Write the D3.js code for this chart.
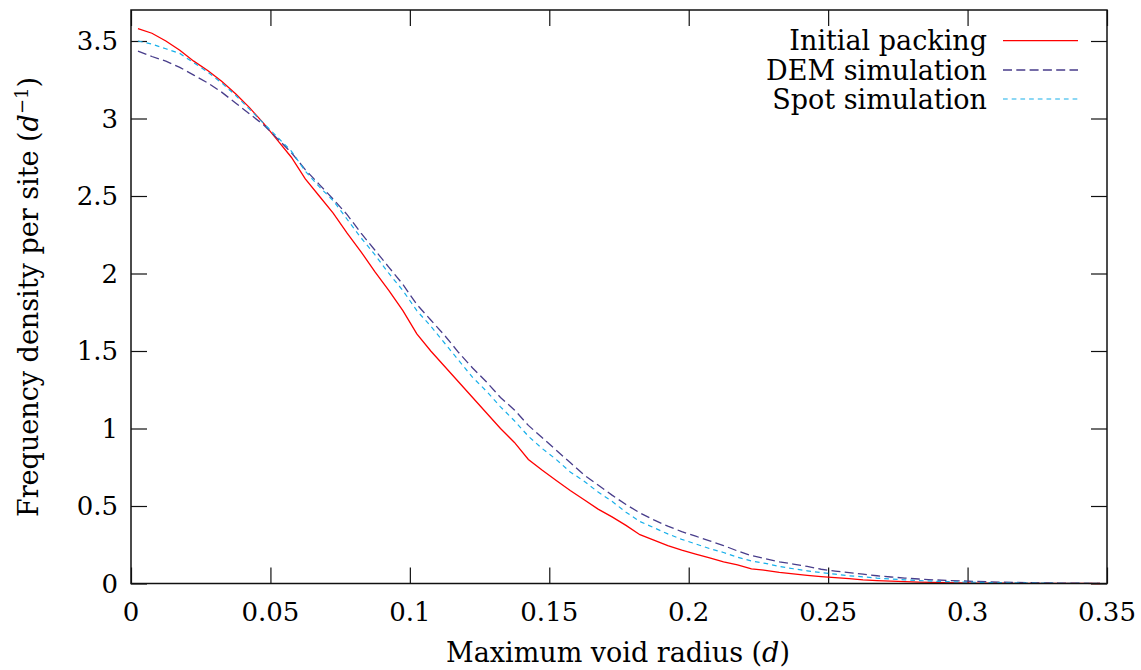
<!DOCTYPE html>
<html><head><meta charset="utf-8">
<script src="https://cdn.jsdelivr.net/npm/d3@7"></script>
<style>html,body{margin:0;padding:0;background:#fff;}svg{display:block;}</style>
</head><body>
<svg id="chart" width="1141" height="670"></svg>
<script>
const radius = [0.0025,0.0075,0.0125,0.0175,0.0225,0.0275,0.0325,0.0375,0.0425,0.0475,
0.0525,0.0575,0.0625,0.0675,0.0725,0.0775,0.0825,0.0875,0.0925,0.0975,
0.1025,0.1075,0.1125,0.1175,0.1225,0.1275,0.1325,0.1375,0.1425,0.1475,
0.1525,0.1575,0.1625,0.1675,0.1725,0.1775,0.1825,0.1875,0.1925,0.1975,
0.2025,0.2075,0.2125,0.2175,0.2225,0.2275,0.2325,0.2375,0.2425,0.2475,
0.2525,0.2575,0.2625,0.2675,0.2725,0.2775,0.2825,0.2875,0.2925,0.2975,
0.3025,0.3075,0.3125,0.3175,0.3225,0.3275,0.3325,0.3375,0.3425,0.3475];
const initialPacking = [3.58,3.55,3.50,3.44,3.37,3.31,3.24,3.16,3.07,2.97,
2.86,2.75,2.61,2.50,2.39,2.26,2.14,2.01,1.89,1.76,
1.61,1.50,1.40,1.30,1.20,1.10,1.00,0.91,0.80,0.73,
0.665,0.60,0.54,0.48,0.43,0.375,0.315,0.28,0.245,0.215,
0.19,0.165,0.14,0.12,0.095,0.085,0.072,0.062,0.053,0.045,
0.038,0.031,0.024,0.019,0.015,0.012,0.009,0.007,0.005,0.004,
0.003,0.002,0.0015,0.001,0.0008,0.0005,0.0004,0.0003,0.0002,0.0001];
const demSimulation = [3.435,3.40,3.37,3.33,3.28,3.23,3.17,3.10,3.03,2.96,
2.87,2.78,2.67,2.575,2.48,2.38,2.26,2.15,2.04,1.93,
1.80,1.70,1.60,1.49,1.39,1.30,1.20,1.12,1.02,0.94,
0.86,0.78,0.70,0.635,0.57,0.51,0.455,0.41,0.37,0.335,
0.305,0.275,0.245,0.21,0.18,0.16,0.14,0.125,0.11,0.092,
0.08,0.07,0.06,0.05,0.042,0.035,0.029,0.024,0.02,0.017,
0.014,0.011,0.009,0.007,0.005,0.004,0.003,0.002,0.001,0.001];
const spotSimulation = [3.50,3.48,3.45,3.42,3.36,3.30,3.23,3.15,3.06,2.97,
2.88,2.79,2.66,2.56,2.47,2.35,2.23,2.12,2.00,1.89,
1.76,1.66,1.55,1.44,1.33,1.24,1.14,1.05,0.95,0.87,
0.80,0.72,0.66,0.59,0.53,0.46,0.40,0.36,0.32,0.285,
0.255,0.225,0.20,0.17,0.145,0.13,0.11,0.095,0.082,0.07,
0.06,0.05,0.043,0.035,0.029,0.024,0.019,0.015,0.012,0.01,
0.008,0.006,0.005,0.004,0.003,0.002,0.0015,0.001,0.001,0.0005];
const xTicks = [0,0.05,0.1,0.15,0.2,0.25,0.3,0.35];
const xTickLabels = ["0","0.05","0.1","0.15","0.2","0.25","0.3","0.35"];
const yTicks = [0,0.5,1,1.5,2,2.5,3,3.5];
const yTickLabels = ["0","0.5","1","1.5","2","2.5","3","3.5"];
const seriesNames = ["Initial packing","DEM simulation","Spot simulation"];

const FONT = "'DejaVu Serif', serif";
const FS = 26;
const svg = d3.select("#chart");
const L = 131, R = 1107, T = 10, B = 583.5;
const x = d3.scaleLinear().domain([0,0.35]).range([L,R]);
const y = d3.scaleLinear().domain([0,3.7]).range([B,T]);

const series = [
  {name: seriesNames[0], vals: initialPacking, color: "#ff0000", dash: null, w: 1.3},
  {name: seriesNames[1], vals: demSimulation, color: "#483d8b", dash: "9,4.3", w: 1.3},
  {name: seriesNames[2], vals: spotSimulation, color: "#18b0ea", dash: "4.7,4", w: 1.2}
];

// axes (ticks inward, mirrored)
const tl = 16;
const axB = d3.axisBottom(x).tickValues(xTicks).tickSize(-tl).tickFormat("");
const axT = d3.axisTop(x).tickValues(xTicks).tickSize(-tl).tickFormat("");
const axL = d3.axisLeft(y).tickValues(yTicks).tickSize(-tl).tickFormat("");
const axR = d3.axisRight(y).tickValues(yTicks).tickSize(-tl).tickFormat("");
function styleAxis(g){ g.select(".domain").remove(); g.selectAll("line").attr("stroke","#111").attr("stroke-width",1.2); }
svg.append("g").attr("transform",`translate(0,${B})`).call(axB).call(styleAxis);
svg.append("g").attr("transform",`translate(0,${T})`).call(axT).call(styleAxis);
svg.append("g").attr("transform",`translate(${L},0)`).call(axL).call(styleAxis);
svg.append("g").attr("transform",`translate(${R},0)`).call(axR).call(styleAxis);

// tick labels
svg.append("g").selectAll("text").data(xTicks).join("text")
  .attr("x",d=>x(d)).attr("y",621).attr("text-anchor","middle")
  .attr("font-family",FONT).attr("font-size",FS).attr("fill","#000")
  .text((d,i)=>xTickLabels[i]);
svg.append("g").selectAll("text").data(yTicks).join("text")
  .attr("x",118).attr("y",d=>y(d)).attr("dy","0.36em").attr("text-anchor","end")
  .attr("font-family",FONT).attr("font-size",FS).attr("fill","#000")
  .text((d,i)=>yTickLabels[i]);

// lines
const line = d3.line().x((d,i)=>x(radius[i])).y(d=>y(d));
series.forEach(s=>{
  svg.append("path").datum(s.vals).attr("d",line).attr("fill","none")
    .attr("stroke",s.color).attr("stroke-width",s.w)
    .attr("stroke-dasharray",s.dash);
});

// border
svg.append("rect").attr("x",L).attr("y",T).attr("width",R-L).attr("height",B-T)
  .attr("fill","none").attr("stroke","#111").attr("stroke-width",1.5);

// legend
const legY = [40.7,70,99];
series.forEach((s,i)=>{
  svg.append("text").attr("x",987).attr("y",legY[i]).attr("dy","0.36em").attr("text-anchor","end")
    .attr("font-family",FONT).attr("font-size",27).attr("fill","#000").text(s.name);
  svg.append("line").attr("x1",1003).attr("x2",1078).attr("y1",legY[i]).attr("y2",legY[i])
    .attr("stroke",s.color).attr("stroke-width",s.w).attr("stroke-dasharray",s.dash);
});

// axis titles
const xt = svg.append("text").attr("x",618).attr("y",662).attr("text-anchor","middle")
  .attr("font-family",FONT).attr("font-size",27).attr("fill","#000");
xt.append("tspan").text("Maximum void radius (");
xt.append("tspan").attr("font-style","italic").text("d");
xt.append("tspan").text(")");

const yt = svg.append("text").attr("transform","translate(38,297) rotate(-90)").attr("text-anchor","middle")
  .attr("font-family",FONT).attr("font-size",27).attr("fill","#000");
yt.append("tspan").text("Frequency density per site (");
yt.append("tspan").attr("font-style","italic").text("d");
yt.append("tspan").attr("font-size",18).attr("dy",-10).text("−1");
yt.append("tspan").attr("dy",10).text(")");
</script>
</body></html>
